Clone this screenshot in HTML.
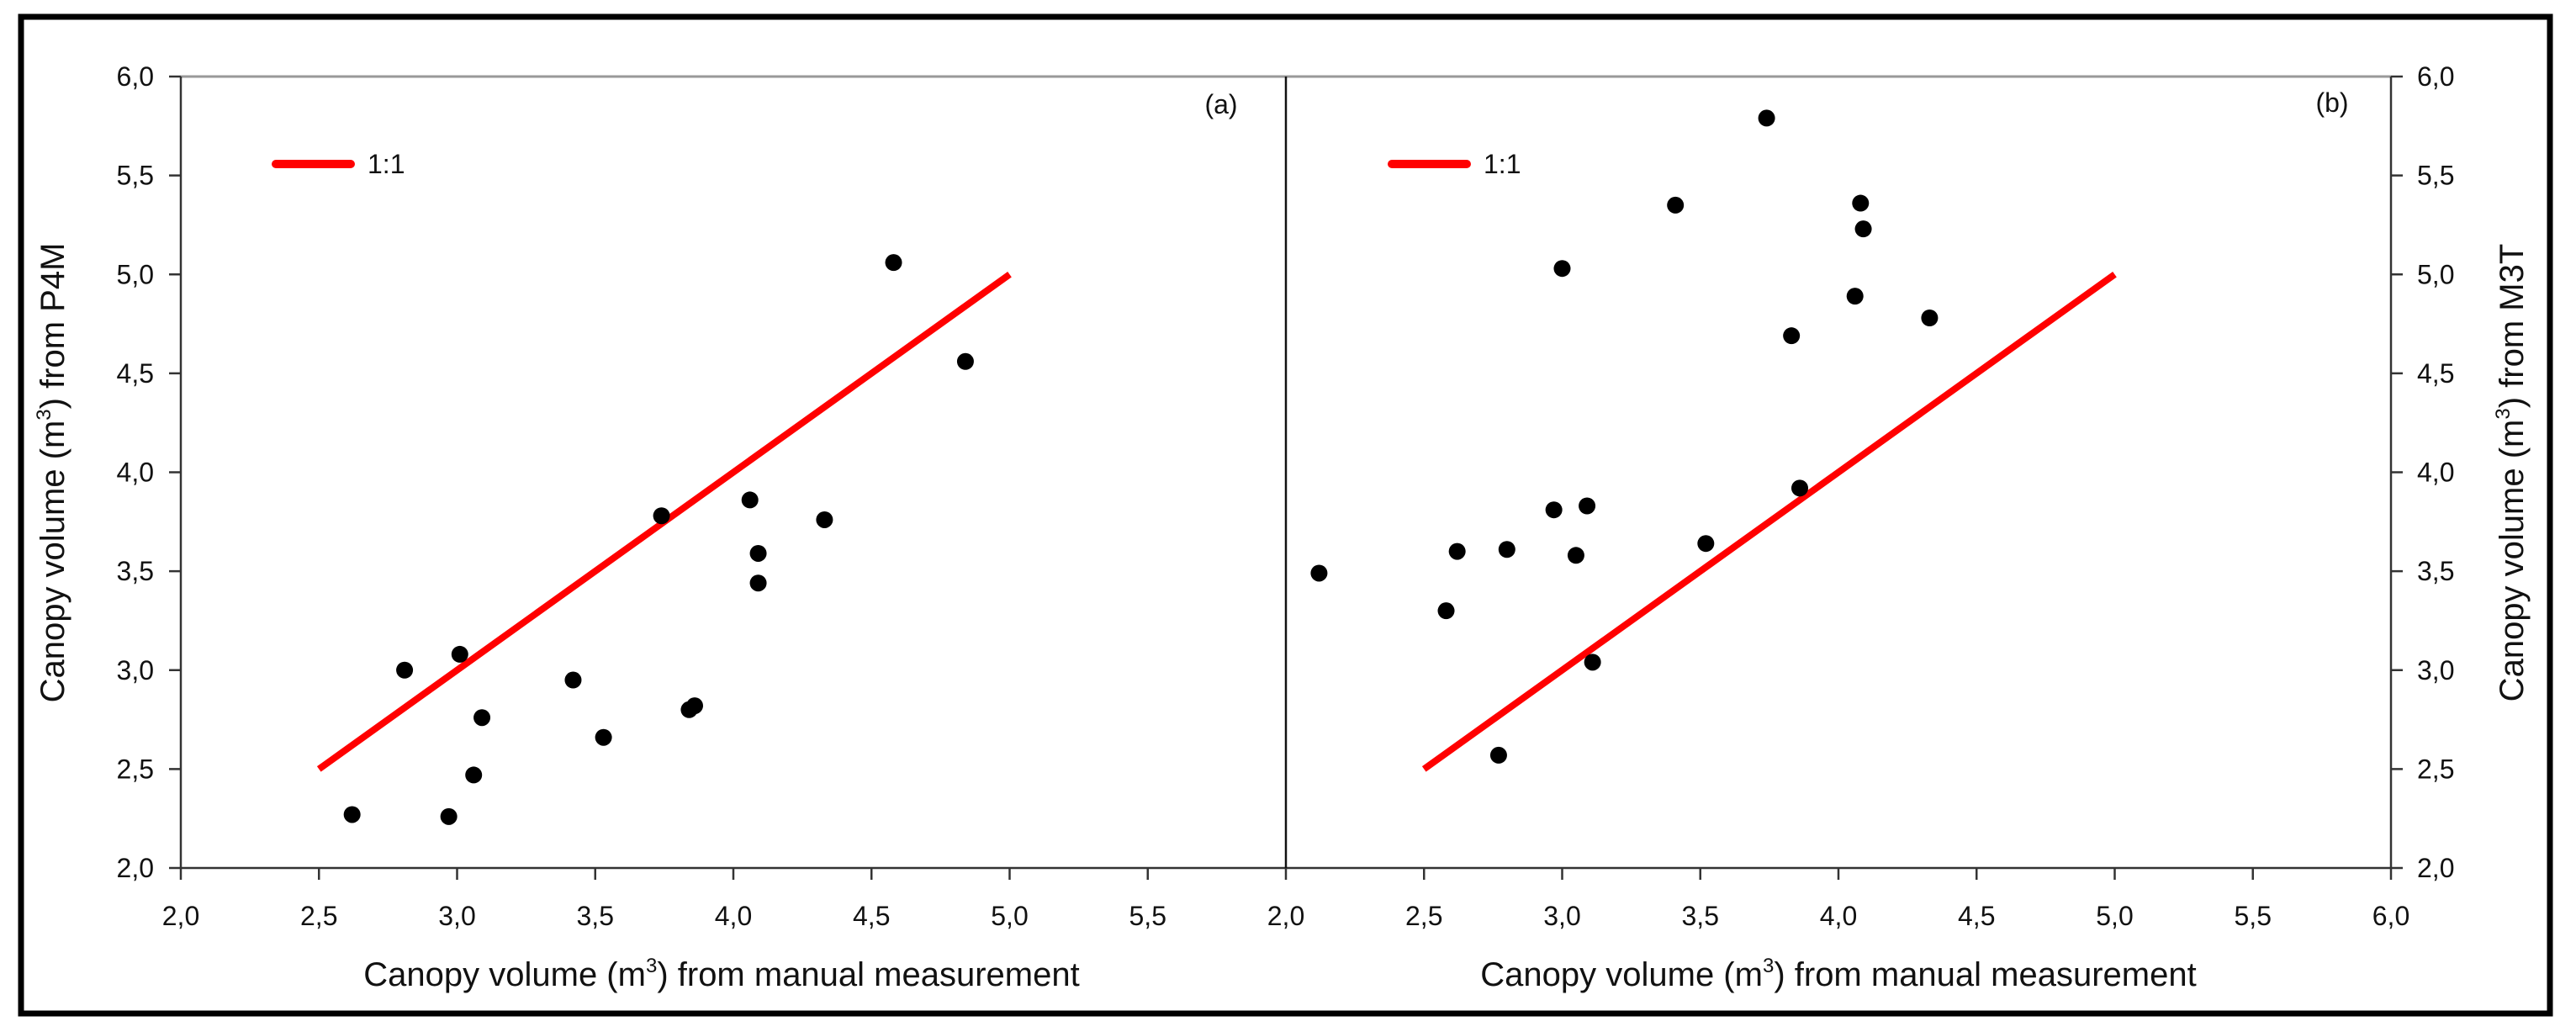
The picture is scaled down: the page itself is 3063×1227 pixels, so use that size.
<!DOCTYPE html>
<html><head><meta charset="utf-8"><style>
html,body{margin:0;padding:0;background:#fff}
svg{display:block}
text{font-family:"Liberation Sans",Arial,sans-serif;fill:#111}
</style></head><body>
<svg id="chart" width="3063" height="1227" viewBox="0 0 3063 1227" xmlns="http://www.w3.org/2000/svg">
<rect x="0" y="0" width="3063" height="1227" fill="#fff"/>
<rect x="25" y="20" width="3007" height="1185" fill="none" stroke="#000" stroke-width="7"/>
<g id="plot"></g>
</svg>
<script>
const xTicks = [2.0, 2.5, 3.0, 3.5, 4.0, 4.5, 5.0, 5.5];
const xTicksB = [2.0, 2.5, 3.0, 3.5, 4.0, 4.5, 5.0, 5.5, 6.0];
const yTicks = [2.0, 2.5, 3.0, 3.5, 4.0, 4.5, 5.0, 5.5, 6.0];
const lineX = [2.5, 5.0];
const lineY = [2.5, 5.0];
const aX = [2.62, 2.81, 3.01, 2.97, 3.06, 3.09, 3.42, 3.53, 3.74, 3.84, 3.86, 4.06, 4.09, 4.09, 4.33, 4.58, 4.84];
const aY = [2.27, 3.00, 3.08, 2.26, 2.47, 2.76, 2.95, 2.66, 3.78, 2.80, 2.82, 3.86, 3.59, 3.44, 3.76, 5.06, 4.56];
const bX = [2.12, 2.58, 2.62, 2.80, 2.77, 2.97, 3.00, 3.05, 3.09, 3.11, 3.41, 3.52, 3.74, 3.83, 3.86, 4.06, 4.08, 4.09, 4.33];
const bY = [3.49, 3.30, 3.60, 3.61, 2.57, 3.81, 5.03, 3.58, 3.83, 3.04, 5.35, 3.64, 5.79, 4.69, 3.92, 4.89, 5.36, 5.23, 4.78];

const NS = 'http://www.w3.org/2000/svg';
const g = document.getElementById('plot');
const Y0 = 1032, Y1 = 91, X0a = 215, X0b = 1529, XR = 2843, UX = 328.5;
function sy(v){ return Y0 - (v - 2) / 4 * (Y0 - Y1); }
function sxa(v){ return X0a + (v - 2) * UX; }
function sxb(v){ return X0b + (v - 2) * UX; }
function el(tag, attrs){ const e = document.createElementNS(NS, tag); for (const k in attrs) e.setAttribute(k, attrs[k]); g.appendChild(e); return e; }
function fmt(v){ return v.toFixed(1).replace('.', ','); }

let e = el('line', {x1: X0a, y1: Y1, x2: XR, y2: Y1, stroke: '#999', 'stroke-width': 3});


e = el('line', {x1: X0a, y1: Y0, x2: XR, y2: Y0, stroke: '#333', 'stroke-width': 2.5});


e = el('line', {x1: X0a, y1: Y1, x2: X0a, y2: Y0, stroke: '#333', 'stroke-width': 2.5});


e = el('line', {x1: X0b, y1: Y1, x2: X0b, y2: Y0, stroke: '#111', 'stroke-width': 2.5});


e = el('line', {x1: XR, y1: Y1, x2: XR, y2: Y0, stroke: '#333', 'stroke-width': 2.5});



yTicks.forEach(v => {
  const y = sy(v);
  let t = el('line', {x1: X0a - 14, y1: y, x2: X0a, y2: y, stroke: '#333', 'stroke-width': 2.5});
  
  
  t = el('text', {x: 183, y: y + 11, 'text-anchor': 'end', 'font-size': 32});
  t.textContent = fmt(v);
  
  
  t = el('line', {x1: XR, y1: y, x2: XR + 14, y2: y, stroke: '#333', 'stroke-width': 2.5});
  
  
  t = el('text', {x: 2874, y: y + 11, 'text-anchor': 'start', 'font-size': 32});
  t.textContent = fmt(v);
  
  
});
xTicks.forEach(v => {
  const x = sxa(v);
  let t = el('line', {x1: x, y1: Y0, x2: x, y2: Y0 + 14, stroke: '#333', 'stroke-width': 2.5});
  
  
  t = el('text', {x: x, y: Y0 + 68, 'text-anchor': 'middle', 'font-size': 32});
  t.textContent = fmt(v);
  
  
});
xTicksB.forEach(v => {
  const x = sxb(v);
  let t = el('line', {x1: x, y1: Y0, x2: x, y2: Y0 + 14, stroke: '#333', 'stroke-width': 2.5});
  
  
  t = el('text', {x: x, y: Y0 + 68, 'text-anchor': 'middle', 'font-size': 32});
  t.textContent = fmt(v);
  
  
});

e = el('line', {x1: sxa(lineX[0]), y1: sy(lineY[0]), x2: sxa(lineX[1]), y2: sy(lineY[1]), stroke: '#f00', 'stroke-width': 8});


e = el('line', {x1: sxb(lineX[0]), y1: sy(lineY[0]), x2: sxb(lineX[1]), y2: sy(lineY[1]), stroke: '#f00', 'stroke-width': 8});



aX.forEach((v, i) => {
  const c = el('circle', {cx: sxa(v), cy: sy(aY[i]), r: 10, fill: '#000'});
  
  
});
bX.forEach((v, i) => {
  const c = el('circle', {cx: sxb(v), cy: sy(bY[i]), r: 10, fill: '#000'});
  
  
});

[[328, 'a'], [1655, 'b']].forEach(([x, p]) => {
  let l = el('line', {x1: x, y1: 195, x2: x + 89, y2: 195, stroke: '#f00', 'stroke-width': 10, 'stroke-linecap': 'round'});
  
  
  l = el('text', {x: x + 109, y: 206, 'font-size': 32});
  l.textContent = '1:1';
  
  
});

e = el('text', {x: 1452, y: 135, 'text-anchor': 'middle', 'font-size': 32});
e.textContent = '(a)';


e = el('text', {x: 2773, y: 133, 'text-anchor': 'middle', 'font-size': 32});
e.textContent = '(b)';



function title(x, y, rot, name){
  const t = el('text', {x: x, y: y, 'text-anchor': 'middle', 'font-size': 40});
  if (rot) t.setAttribute('transform', 'rotate(' + rot + ' ' + x + ' ' + y + ')');
  t.innerHTML = 'Canopy volume (m<tspan dy="-16" font-size="24">3</tspan><tspan dy="16">)</tspan> ' + name;
  return t;
}
e = title(858, 1172, 0, 'from manual measurement');


e = title(2186, 1172, 0, 'from manual measurement');


e = title(76, 562, -90, 'from P4M');


e = title(3000, 562, -90, 'from M3T');


</script>
</body></html>
